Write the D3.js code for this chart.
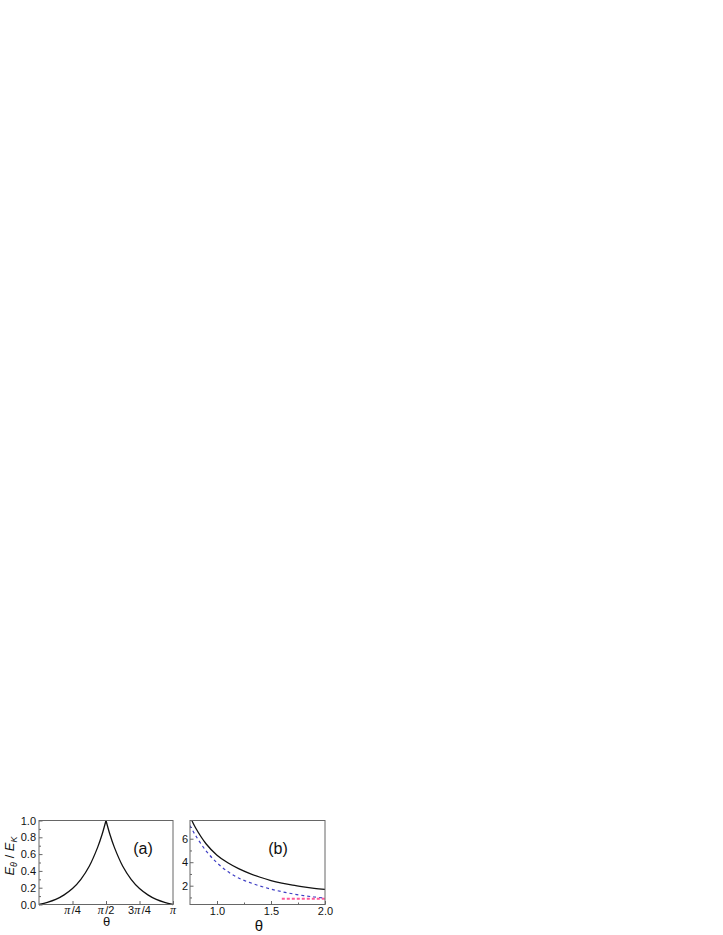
<!DOCTYPE html>
<html>
<head>
<meta charset="utf-8">
<script src="https://cdn.jsdelivr.net/npm/d3@7"></script>
<style>
  body { margin: 0; background: #fff; }
  svg { display: block; }
  text { font-family: "Liberation Sans", Arial, sans-serif; }
</style>
</head>
<body>
<svg id="chart" width="723" height="935"></svg>
<script>
// Panel (a): E_theta / E_K against theta (theta given as fraction of pi)
const thetaA = [0, 0.0625, 0.125, 0.1875, 0.25, 0.3125, 0.375, 0.4375, 0.47, 0.5,
                0.53, 0.5625, 0.625, 0.6875, 0.75, 0.8125, 0.875, 0.9375, 1];
const ratioA = [0, 0.025, 0.06, 0.115, 0.19, 0.30, 0.455, 0.68, 0.83, 1.0,
                0.83, 0.68, 0.455, 0.30, 0.19, 0.115, 0.06, 0.025, 0];
const ticksA = [0.25, 0.5, 0.75, 1];
const tickLabelsA = ["π/4", "π/2", "3π/4", "π"];

// Panel (b)
const thetaB = [0.75, 0.8, 0.9, 1.0, 1.1, 1.2, 1.3, 1.4, 1.5, 1.6, 1.7, 1.8, 1.9, 2.0];
const solidB = [7.9, 6.95, 5.55, 4.6, 3.95, 3.45, 3.05, 2.72, 2.44, 2.22, 2.04, 1.90, 1.78, 1.68];
const dashB  = [7.13, 6.3, 4.95, 3.95, 3.2, 2.65, 2.28, 1.97, 1.71, 1.49, 1.31, 1.16, 1.04, 0.95];
const thetaDot = [1.6, 2.0];
const dotB = [0.9, 0.9];

const svg = d3.select("#chart");
const plotTop = 820.5, plotBottom = 904.5;
const frameColor = "#666";
const smooth = d3.curveCatmullRom.alpha(0.5);

// ---------- panel (a)
const xA = d3.scaleLinear().domain([0, Math.PI]).range([39, 173]);
const yA = d3.scaleLinear().domain([0, 1]).range([plotBottom, plotTop]);

const gA = svg.append("g");

// minor ticks
gA.append("g")
  .attr("transform", `translate(${xA(0)},0)`)
  .call(d3.axisLeft(yA).tickValues(d3.range(0.1, 1, 0.2)).tickSize(-2).tickFormat(""))
  .call(g => g.select(".domain").remove())
  .call(g => g.selectAll("line").attr("stroke", frameColor));

gA.append("g")
  .attr("transform", `translate(${xA(0)},0)`)
  .call(d3.axisLeft(yA).tickValues(d3.range(0, 1.01, 0.2)).tickSize(-3.5).tickPadding(3)
        .tickFormat(d3.format(".1f")))
  .call(g => g.select(".domain").remove())
  .call(g => g.selectAll("line").attr("stroke", frameColor))
  .call(g => g.selectAll("text").attr("font-size", 11).attr("fill", "#111")
              .attr("font-family", "Liberation Sans, Arial, sans-serif"));

gA.append("g")
  .attr("transform", `translate(0,${plotBottom})`)
  .call(d3.axisBottom(xA).tickValues(ticksA.map(d => d * Math.PI)).tickSize(-3.5)
        .tickFormat(""))
  .call(g => g.select(".domain").remove())
  .call(g => g.selectAll("line").attr("stroke", frameColor));

// tick labels with italic pi
gA.selectAll(".pilabel")
  .data(ticksA)
  .join("text")
  .attr("class", "pilabel")
  .attr("x", d => xA(d * Math.PI))
  .attr("y", plotBottom + 9.5)
  .attr("text-anchor", "middle")
  .attr("font-size", 11)
  .attr("fill", "#111")
  .each(function (d, i) {
    const t = d3.select(this);
    const s = tickLabelsA[i];
    const k = s.indexOf("π");
    if (k > 0) t.append("tspan").text(s.slice(0, k));
    t.append("tspan").attr("font-family", "Liberation Serif, serif").attr("font-style", "italic")
      .attr("font-size", 12).text("π");
    if (k < s.length - 1) t.append("tspan").attr("dx", 1.5).text(s.slice(k + 1));
  });

const mid = thetaA.indexOf(0.5);
gA.append("path")
  .datum(thetaA.slice(0, mid + 1))
  .attr("fill", "none").attr("stroke", "#111").attr("stroke-width", 1.3)
  .attr("d", d3.line().x(d => xA(d * Math.PI)).y((d, i) => yA(ratioA[i])).curve(smooth));
gA.append("path")
  .datum(thetaA.slice(mid))
  .attr("fill", "none").attr("stroke", "#111").attr("stroke-width", 1.3)
  .attr("d", d3.line().x(d => xA(d * Math.PI)).y((d, i) => yA(ratioA[i + mid])).curve(smooth));

gA.append("rect")
  .attr("x", xA(0)).attr("y", plotTop)
  .attr("width", xA(Math.PI) - xA(0)).attr("height", plotBottom - plotTop)
  .attr("fill", "none").attr("stroke", frameColor).attr("stroke-width", 1);

gA.append("text")
  .attr("x", 143).attr("y", 854)
  .attr("text-anchor", "middle").attr("font-size", 16).attr("fill", "#111")
  .text("(a)");

gA.append("text")
  .attr("x", 106.5).attr("y", 926)
  .attr("text-anchor", "middle").attr("font-size", 13)
  .attr("font-family", "Liberation Serif, serif").attr("fill", "#111")
  .text("θ");

// y axis title
const yt = gA.append("text")
  .attr("transform", `translate(14,856) rotate(-90)`)
  .attr("text-anchor", "middle").attr("font-size", 13).attr("fill", "#111")
  .attr("font-style", "italic");
yt.append("tspan").text("E");
yt.append("tspan").attr("font-size", 9).attr("dy", 3).text("θ");
yt.append("tspan").attr("dy", -3).attr("font-style", "normal").text(" / ");
yt.append("tspan").text("E");
yt.append("tspan").attr("font-size", 9).attr("dy", 3).text("K");

// ---------- panel (b)
const xB = d3.scaleLinear().domain([0.75, 2.0]).range([190, 325]);
const yB = d3.scaleLinear().domain([0.4, 7.55]).range([plotBottom, plotTop]);

const gB = svg.append("g");

gB.append("defs").append("clipPath").attr("id", "clipB")
  .append("rect")
  .attr("x", xB(0.75)).attr("y", plotTop)
  .attr("width", xB(2.0) - xB(0.75)).attr("height", plotBottom - plotTop);

gB.append("g")
  .attr("transform", `translate(${xB(0.75)},0)`)
  .call(d3.axisLeft(yB).tickValues([1, 3, 5, 7]).tickSize(-2).tickFormat(""))
  .call(g => g.select(".domain").remove())
  .call(g => g.selectAll("line").attr("stroke", frameColor));

gB.append("g")
  .attr("transform", `translate(${xB(0.75)},0)`)
  .call(d3.axisLeft(yB).tickValues([2, 4, 6]).tickSize(-3.5).tickPadding(2))
  .call(g => g.select(".domain").remove())
  .call(g => g.selectAll("line").attr("stroke", frameColor))
  .call(g => g.selectAll("text").attr("font-size", 11).attr("fill", "#111")
              .attr("font-family", "Liberation Sans, Arial, sans-serif"));

gB.append("g")
  .attr("transform", `translate(0,${plotBottom})`)
  .call(d3.axisBottom(xB).tickValues([1.25, 1.75]).tickSize(-2).tickFormat(""))
  .call(g => g.select(".domain").remove())
  .call(g => g.selectAll("line").attr("stroke", frameColor));

gB.append("g")
  .attr("transform", `translate(0,${plotBottom})`)
  .call(d3.axisBottom(xB).tickValues([1.0, 1.5, 2.0]).tickSize(-3.5).tickPadding(3)
        .tickFormat(d3.format(".1f")))
  .call(g => g.select(".domain").remove())
  .call(g => g.selectAll("line").attr("stroke", frameColor))
  .call(g => g.selectAll("text").attr("font-size", 11).attr("fill", "#111")
              .attr("font-family", "Liberation Sans, Arial, sans-serif"));

const plotB = gB.append("g").attr("clip-path", "url(#clipB)");

plotB.append("path")
  .datum(thetaB)
  .attr("fill", "none").attr("stroke", "#111").attr("stroke-width", 1.3)
  .attr("d", d3.line().x(d => xB(d)).y((d, i) => yB(solidB[i])).curve(smooth));

plotB.append("path")
  .datum(thetaB)
  .attr("fill", "none").attr("stroke", "#3d3dc4").attr("stroke-width", 1.2)
  .attr("stroke-dasharray", "3,3")
  .attr("d", d3.line().x(d => xB(d)).y((d, i) => yB(dashB[i])).curve(smooth));

plotB.append("path")
  .datum(thetaDot)
  .attr("fill", "none").attr("stroke", "#ff5a9a").attr("stroke-width", 2)
  .attr("stroke-dasharray", "3,2")
  .attr("d", d3.line().x(d => xB(d)).y((d, i) => yB(dotB[i])));

gB.append("rect")
  .attr("x", xB(0.75)).attr("y", plotTop)
  .attr("width", xB(2.0) - xB(0.75)).attr("height", plotBottom - plotTop)
  .attr("fill", "none").attr("stroke", frameColor).attr("stroke-width", 1);

gB.append("text")
  .attr("x", 278).attr("y", 854)
  .attr("text-anchor", "middle").attr("font-size", 16).attr("fill", "#111")
  .text("(b)");

gB.append("text")
  .attr("x", 259).attr("y", 930.5)
  .attr("text-anchor", "middle").attr("font-size", 15)
  .attr("font-family", "Liberation Serif, serif").attr("fill", "#111")
  .text("θ");
</script>
</body>
</html>
